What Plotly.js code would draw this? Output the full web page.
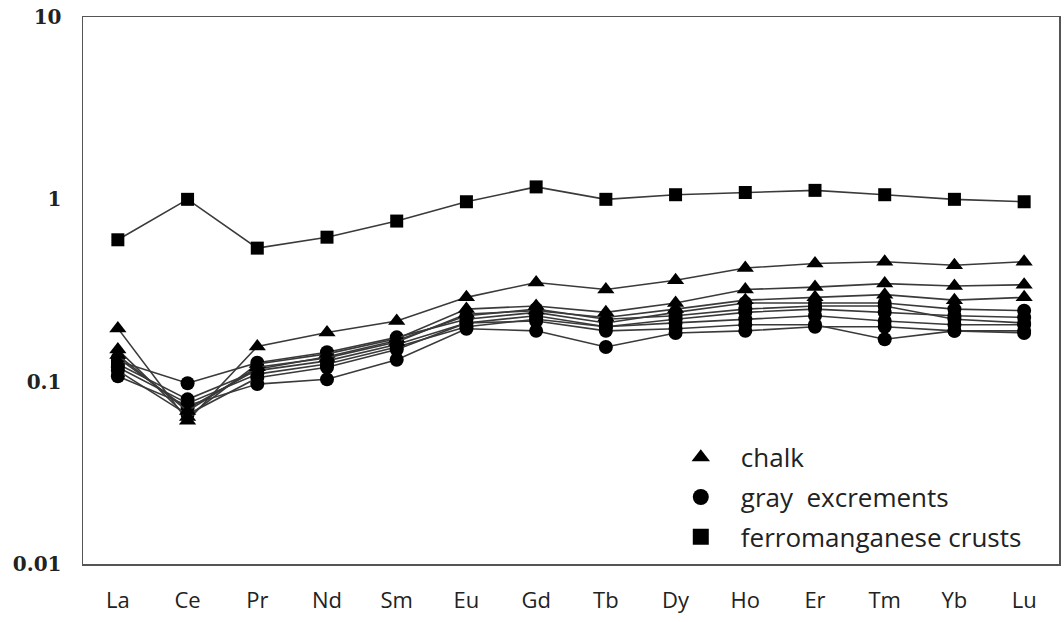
<!DOCTYPE html>
<html>
<head>
<meta charset="utf-8">
<script src="https://cdn.plot.ly/plotly-3.0.1.min.js"></script>
<style>html,body{margin:0;padding:0;background:#fff;}#chart{width:1064px;height:622px;}</style>
</head>
<body>
<div id="chart"></div>
<script>
const elements = ["La","Ce","Pr","Nd","Sm","Eu","Gd","Tb","Dy","Ho","Er","Tm","Yb","Lu"];

const crusts = [0.60, 1.00, 0.54, 0.62, 0.76, 0.97, 1.17, 1.00, 1.06, 1.09, 1.12, 1.06, 1.00, 0.97];

const chalk1 = [0.196, 0.061, 0.156, 0.186, 0.215, 0.29, 0.35, 0.32, 0.36, 0.42, 0.445, 0.455, 0.435, 0.455];
const chalk2 = [0.150, 0.064, 0.125, 0.142, 0.172, 0.25, 0.26, 0.24, 0.27, 0.32, 0.33, 0.345, 0.335, 0.34];
const chalk3 = [0.140, 0.069, 0.120, 0.135, 0.165, 0.235, 0.245, 0.225, 0.25, 0.28, 0.29, 0.30, 0.28, 0.29];

const gray1 = [0.130, 0.098, 0.127, 0.145, 0.175, 0.22, 0.24, 0.21, 0.24, 0.27, 0.27, 0.27, 0.25, 0.245];
const gray2 = [0.125, 0.080, 0.115, 0.130, 0.160, 0.21, 0.23, 0.20, 0.22, 0.24, 0.25, 0.24, 0.23, 0.225];
const gray3 = [0.120, 0.076, 0.110, 0.125, 0.155, 0.20, 0.22, 0.20, 0.21, 0.22, 0.23, 0.215, 0.205, 0.205];
const gray4 = [0.135, 0.071, 0.117, 0.137, 0.168, 0.23, 0.25, 0.22, 0.23, 0.25, 0.26, 0.26, 0.22, 0.21];
const gray5 = [0.107, 0.074, 0.097, 0.103, 0.132, 0.195, 0.19, 0.155, 0.185, 0.19, 0.20, 0.20, 0.19, 0.19];
const gray6 = [0.115, 0.066, 0.105, 0.120, 0.150, 0.21, 0.215, 0.19, 0.195, 0.205, 0.205, 0.171, 0.19, 0.185];

const chalkSeries = [chalk1, chalk2, chalk3];
const graySeries = [gray1, gray2, gray3, gray4, gray5, gray6];

const lineStyle = {color: "#3a3a3a", width: 1.6};
const traces = [];

graySeries.forEach(function (s) {
  traces.push({x: elements, y: s, mode: "lines+markers", showlegend: false, hoverinfo: "skip",
    line: lineStyle, marker: {symbol: "circle", size: 14, color: "#000"}});
});
chalkSeries.forEach(function (s) {
  traces.push({x: elements, y: s, mode: "lines+markers", showlegend: false, hoverinfo: "skip",
    line: lineStyle, marker: {symbol: "triangle-up", size: 15, color: "#000"}});
});
traces.push({x: elements, y: crusts, mode: "lines+markers", showlegend: false, hoverinfo: "skip",
  line: lineStyle, marker: {symbol: "square", size: 13, color: "#000"}});

// legend-only entries (markers only)
traces.push({x: [null], y: [null], mode: "markers", name: "chalk", legendgroup: "a",
  marker: {symbol: "triangle-up", size: 18, color: "#000"}});
traces.push({x: [null], y: [null], mode: "markers", name: "gray  excrements", legendgroup: "b",
  marker: {symbol: "circle", size: 18, color: "#000"}});
traces.push({x: [null], y: [null], mode: "markers", name: "ferromanganese crusts", legendgroup: "c",
  marker: {symbol: "square", size: 18, color: "#000"}});

const layout = {
  width: 1064, height: 622,
  margin: {l: 83, r: 5, t: 17, b: 58},
  paper_bgcolor: "#fff", plot_bgcolor: "#fff",
  showlegend: true,
  legend: {x: 0.592, y: 0.238, xanchor: "left", yanchor: "top", bgcolor: "rgba(0,0,0,0)",
    font: {family: "Open Sans, sans-serif", size: 26, color: "#222"}, tracegroupgap: 3, itemwidth: 70},
  xaxis: {
    type: "category", range: [-0.5, 13.5], showgrid: false, zeroline: false,
    showline: true, mirror: true, linecolor: "#555", linewidth: 1.5,
    ticks: "", ticklabelstandoff: 16,
    tickfont: {family: "Open Sans, sans-serif", size: 22, color: "#222"}
  },
  yaxis: {
    type: "log", range: [-2, 1], showgrid: false, zeroline: false,
    showline: true, mirror: true, linecolor: "#555", linewidth: 1.5,
    ticks: "", ticklabelstandoff: 16,
    tickvals: [0.01, 0.1, 1, 10], ticktext: ["0.01", "0.1", "1", "10"],
    tickfont: {family: "DejaVu Serif, serif", size: 20, color: "#222", weight: "bold"}
  }
};

Plotly.newPlot("chart", traces, layout, {displayModeBar: false, staticPlot: true});
</script>
</body>
</html>
